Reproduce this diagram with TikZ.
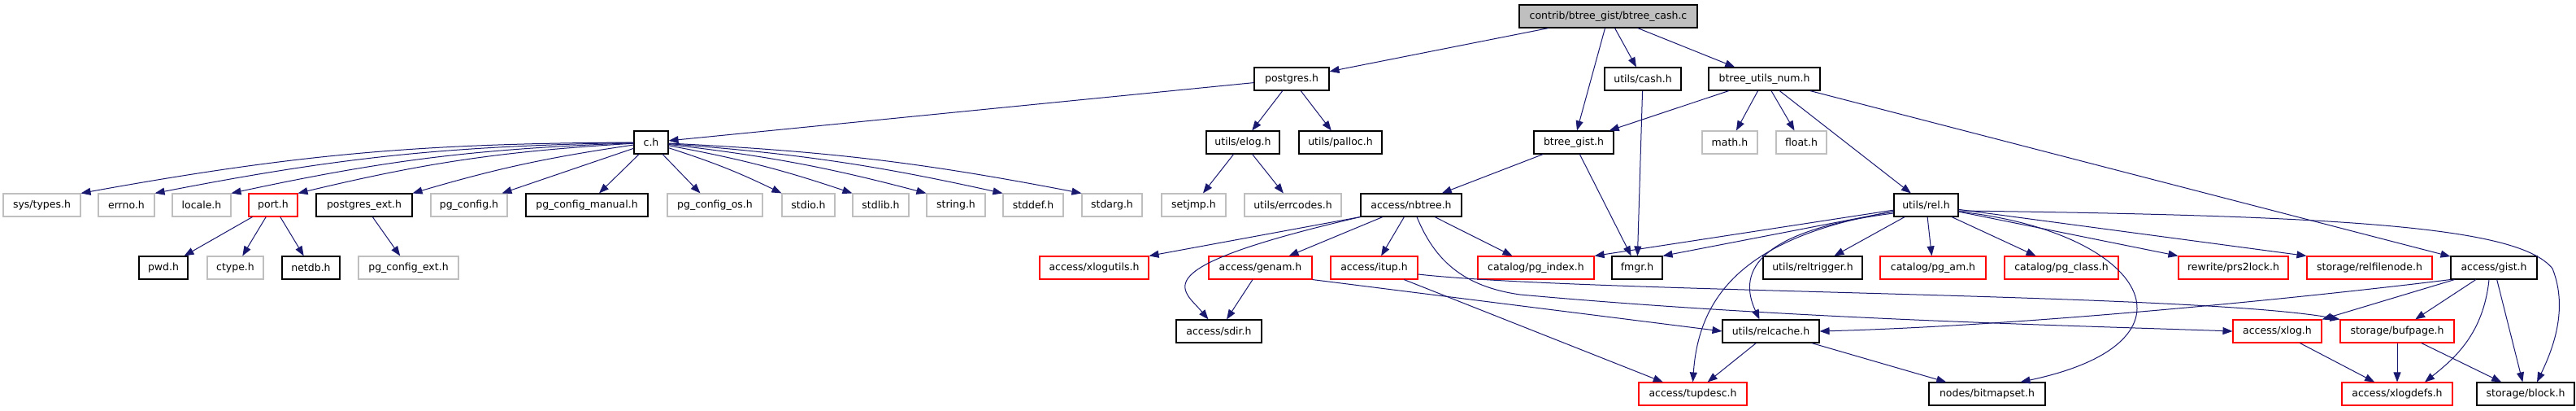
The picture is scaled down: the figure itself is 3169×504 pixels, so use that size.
\documentclass[tikz,border=0pt]{standalone}
\usepackage{fontspec}
\setmainfont{DejaVu Sans}
\usetikzlibrary{arrows.meta}
\definecolor{edgeblue}{HTML}{191970}
\definecolor{extgray}{HTML}{BFBFBF}
\definecolor{truncred}{HTML}{FF0000}
\definecolor{rootfill}{HTML}{BFBFBF}
\tikzset{
  box/.style={rectangle, minimum height=28pt, inner sep=0pt, fill=white, line width=1.1pt, font=\fontsize{12.5pt}{15pt}\selectfont},
  doc/.style={box, draw=black},
  ext/.style={box, draw=extgray},
  trunc/.style={box, draw=truncred},
  rootbox/.style={box, draw=black, fill=rootfill},
  dep/.style={draw=edgeblue, line width=1pt, -{Triangle[length=12pt,width=9pt]}},
}
\begin{document}
\begin{tikzpicture}[x=1pt,y=-1pt]
\useasboundingbox (0,0) rectangle (3169,504);
% row 0
\node[rootbox, minimum width=219pt] (root) at (1978.5,20) {contrib/btree\_gist/btree\_cash.c};
% row 1
\node[doc, minimum width=92pt] (postgres) at (1589,97) {postgres.h};
\node[doc, minimum width=94pt] (cash) at (2021,97) {utils/cash.h};
\node[doc, minimum width=137pt] (num) at (2170.5,97) {btree\_utils\_num.h};
% row 2
\node[doc, minimum width=42pt] (ch) at (801,175) {c.h};
\node[doc, minimum width=90pt] (elog) at (1529,175) {utils/elog.h};
\node[doc, minimum width=102pt] (palloc) at (1649,175) {utils/palloc.h};
\node[doc, minimum width=98pt] (gisth) at (1936,175) {btree\_gist.h};
\node[ext, minimum width=68pt] (math) at (2128,175) {math.h};
\node[ext, minimum width=62pt] (float) at (2216,175) {float.h};
% row 3
\node[ext, minimum width=95pt] (systypes) at (51.5,252) {sys/types.h};
\node[ext, minimum width=69pt] (errno) at (155.5,252) {errno.h};
\node[ext, minimum width=72pt] (locale) at (248,252) {locale.h};
\node[trunc, minimum width=60pt] (port) at (336,252) {port.h};
\node[doc, minimum width=118pt] (pgext) at (448,252) {postgres\_ext.h};
\node[ext, minimum width=94pt] (pgconfig) at (577,252) {pg\_config.h};
\node[doc, minimum width=150pt] (pgmanual) at (722,252) {pg\_config\_manual.h};
\node[ext, minimum width=117pt] (pgos) at (879.5,252) {pg\_config\_os.h};
\node[ext, minimum width=65pt] (stdio) at (994.5,252) {stdio.h};
\node[ext, minimum width=69pt] (stdlib) at (1083.5,252) {stdlib.h};
\node[ext, minimum width=72pt] (string) at (1176,252) {string.h};
\node[ext, minimum width=74pt] (stddef) at (1271,252) {stddef.h};
\node[ext, minimum width=74pt] (stdarg) at (1368,252) {stdarg.h};
\node[ext, minimum width=79pt] (setjmp) at (1468.5,252) {setjmp.h};
\node[ext, minimum width=119pt] (errcodes) at (1590.5,252) {utils/errcodes.h};
\node[doc, minimum width=124pt] (nbtree) at (1736,252) {access/nbtree.h};
\node[doc, minimum width=79pt] (rel) at (2369.5,252) {utils/rel.h};
% row 4
\node[doc, minimum width=60pt] (pwd) at (201,329) {pwd.h};
\node[ext, minimum width=69pt] (ctype) at (289.5,329) {ctype.h};
\node[doc, minimum width=71pt] (netdb) at (382.5,329) {netdb.h};
\node[ext, minimum width=123pt] (pgcfgext) at (502.5,329) {pg\_config\_ext.h};
\node[trunc, minimum width=134pt] (xlogutils) at (1346,329) {access/xlogutils.h};
\node[trunc, minimum width=127pt] (genam) at (1550.5,329) {access/genam.h};
\node[trunc, minimum width=107pt] (itup) at (1690.5,329) {access/itup.h};
\node[trunc, minimum width=143pt] (pgindex) at (1889.5,329) {catalog/pg\_index.h};
\node[doc, minimum width=62pt] (fmgr) at (2014,329) {fmgr.h};
\node[doc, minimum width=122pt] (reltrigger) at (2230,329) {utils/reltrigger.h};
\node[trunc, minimum width=130pt] (pgam) at (2378,329) {catalog/pg\_am.h};
\node[trunc, minimum width=140pt] (pgclass) at (2536,329) {catalog/pg\_class.h};
\node[trunc, minimum width=135pt] (prs2lock) at (2747.5,329) {rewrite/prs2lock.h};
\node[trunc, minimum width=154pt] (relfilenode) at (2915,329) {storage/relfilenode.h};
\node[doc, minimum width=106pt] (gist) at (3068,329) {access/gist.h};
% row 5
\node[doc, minimum width=105pt] (sdir) at (1499.5,407) {access/sdir.h};
\node[doc, minimum width=119pt] (relcache) at (2178.5,407) {utils/relcache.h};
\node[trunc, minimum width=109pt] (xlog) at (2801.5,407) {access/xlog.h};
\node[trunc, minimum width=140pt] (bufpage) at (2949,407) {storage/bufpage.h};
% row 6
\node[trunc, minimum width=133pt] (tupdesc) at (2082.5,484) {access/tupdesc.h};
\node[doc, minimum width=143pt] (bitmapset) at (2444.5,484) {nodes/bitmapset.h};
\node[trunc, minimum width=136pt] (xlogdefs) at (2949,484) {access/xlogdefs.h};
\node[doc, minimum width=120pt] (block) at (3107,484) {storage/block.h};

% edges from root
\draw[dep] (root) -- (postgres);
\draw[dep] (root) -- (gisth);
\draw[dep] (root) -- (cash);
\draw[dep] (root) -- (num);
% postgres.h
\draw[dep] (postgres) -- (ch);
\draw[dep] (postgres) -- (elog);
\draw[dep] (postgres) -- (palloc);
% c.h fan
\draw[dep] (ch) to[bend right=5] (systypes.north east);
\draw[dep] (ch) to[bend right=5] (errno.north east);
\draw[dep] (ch) to[bend right=5] (locale.north east);
\draw[dep] (ch) to[bend right=5] (port.north east);
\draw[dep] (ch) to[bend right=4] (pgext.north east);
\draw[dep] (ch) -- ([xshift=-7pt]pgconfig.north east);
\draw[dep] (ch) -- ([xshift=15pt]pgmanual.north);
\draw[dep] (ch) -- ([xshift=-18pt]pgos.north);
\draw[dep] (ch) to[bend left=4] (stdio.north west);
\draw[dep] (ch) to[bend left=4] (stdlib.north west);
\draw[dep] (ch) to[bend left=4] (string.north west);
\draw[dep] (ch) to[bend left=4] (stddef.north west);
\draw[dep] (ch) to[bend left=4] (stdarg.north west);
% port.h, postgres_ext.h
\draw[dep] (port) -- (pwd);
\draw[dep] (port) -- (ctype);
\draw[dep] (port) -- (netdb);
\draw[dep] (pgext) -- (pgcfgext);
% elog
\draw[dep] (elog) -- (setjmp);
\draw[dep] (elog) -- (errcodes);
% cash
\draw[dep] (cash) -- (fmgr);
% btree_utils_num.h
\draw[dep] (num) -- (gisth);
\draw[dep] (num) -- (math);
\draw[dep] (num) -- (float);
\draw[dep] (num) -- (rel);
\draw[dep] (num) -- (gist);
% btree_gist.h
\draw[dep] (gisth) -- (nbtree);
\draw[dep] (gisth) -- (fmgr);
% nbtree.h
\draw[dep] (nbtree.south west) -- (xlogutils.north east);
\draw[dep] (nbtree.south west) .. controls (1400,330) and (1455,355) .. ([xshift=-13pt]sdir.north);
\draw[dep] (nbtree) -- (genam);
\draw[dep] (nbtree) -- (itup);
\draw[dep] (nbtree) -- (pgindex);
\draw[dep] ([xshift=7pt]nbtree.south) .. controls (1765,320) and (1800,352) .. (1870,362) .. controls (2200,392) and (2550,400) .. (xlog.west);
% genam, itup
\draw[dep] (genam) -- (sdir);
\draw[dep] (genam.south east) -- (relcache.west);
\draw[dep] (itup) -- (tupdesc);
\draw[dep] ([yshift=-8pt]itup.east) .. controls (1950,360) and (2700,360) .. (bufpage.north west);
% utils/rel.h
\draw[dep] (rel) -- (pgindex.north east);
\draw[dep] (rel) -- (fmgr.north east);
\draw[dep] ([yshift=-8pt]rel.west) .. controls (2150,290) and (2090,360) .. (tupdesc.north);
\draw[dep] ([yshift=-10pt]rel.west) .. controls (2150,285) and (2140,340) .. ([xshift=-14pt]relcache.north);
\draw[dep] (rel) -- (reltrigger);
\draw[dep] (rel) -- (pgam);
\draw[dep] (rel) -- (pgclass);
\draw[dep] (rel) -- (prs2lock.north west);
\draw[dep] (rel) -- (relfilenode.north west);
\draw[dep] ([yshift=-8pt]rel.east) .. controls (2640,285) and (2720,420) .. ([xshift=41pt]bitmapset.north);
\draw[dep] ([yshift=-7pt]rel.east) .. controls (2900,265) and (3100,280) .. (3140,330) .. controls (3160,380) and (3140,430) .. ([xshift=14pt]block.north);
% access/gist.h
\draw[dep] (gist.south west) .. controls (2850,364) and (2500,400) .. (relcache.east);
\draw[dep] (gist) -- (xlog.north east);
\draw[dep] (gist) -- (bufpage);
\draw[dep] ([xshift=-6pt]gist.south) .. controls (3055,410) and (3020,440) .. ([xshift=34pt]xlogdefs.north);
\draw[dep] (gist) -- (block);
% relcache, xlog, bufpage
\draw[dep] (relcache) -- (tupdesc);
\draw[dep] (relcache) -- (bitmapset);
\draw[dep] (xlog) -- (xlogdefs);
\draw[dep] (bufpage) -- (xlogdefs);
\draw[dep] (bufpage) -- (block);
\end{tikzpicture}
\end{document}
